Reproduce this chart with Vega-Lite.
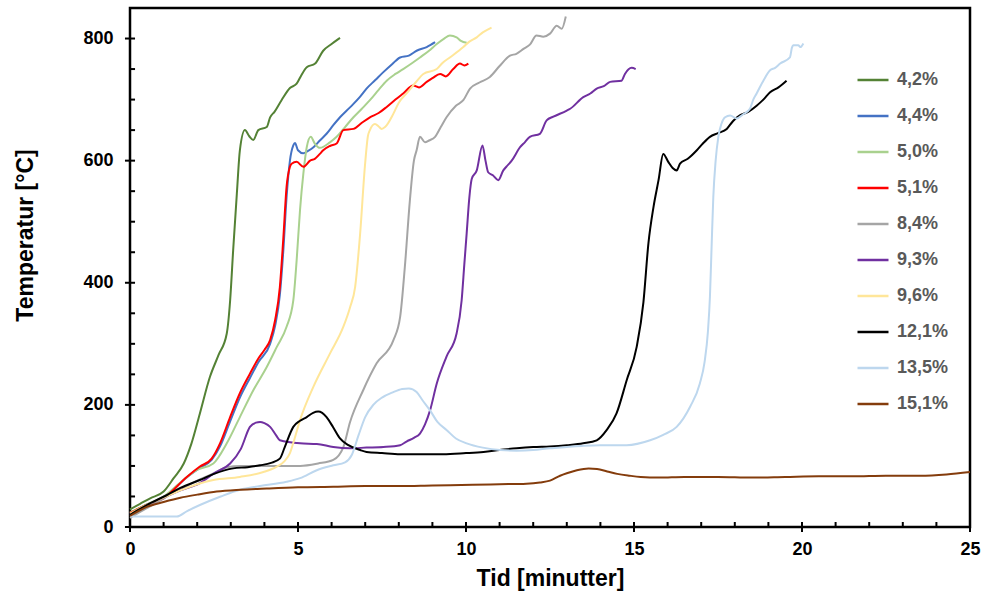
{
"$schema": "https://vega.github.io/schema/vega-lite/v6.json",
"width": 840, "height": 519,
"autosize": "none",
"padding": {"left": 130, "top": 8, "right": 11, "bottom": 67},
"background": "white",
"config": {"view": {"stroke": "black", "strokeWidth": 2.5}, "font": "Liberation Sans"},
"datasets": {"d": [
{"s":"4,2%","t":0,"T":29},{"s":"4,2%","t":0.3,"T":38},{"s":"4,2%","t":0.6,"T":47},{"s":"4,2%","t":1.0,"T":58},{"s":"4,2%","t":1.3,"T":80},{"s":"4,2%","t":1.6,"T":104},{"s":"4,2%","t":1.83,"T":137},{"s":"4,2%","t":2.08,"T":186},{"s":"4,2%","t":2.38,"T":246},{"s":"4,2%","t":2.63,"T":281},{"s":"4,2%","t":2.88,"T":317},{"s":"4,2%","t":2.98,"T":371},{"s":"4,2%","t":3.07,"T":453},{"s":"4,2%","t":3.18,"T":546},{"s":"4,2%","t":3.27,"T":617},{"s":"4,2%","t":3.42,"T":650},{"s":"4,2%","t":3.55,"T":640},{"s":"4,2%","t":3.67,"T":634},{"s":"4,2%","t":3.82,"T":650},{"s":"4,2%","t":4.07,"T":655},{"s":"4,2%","t":4.17,"T":671},{"s":"4,2%","t":4.3,"T":680},{"s":"4,2%","t":4.51,"T":699},{"s":"4,2%","t":4.76,"T":719},{"s":"4,2%","t":4.96,"T":726},{"s":"4,2%","t":5.1,"T":740},{"s":"4,2%","t":5.26,"T":753},{"s":"4,2%","t":5.51,"T":759},{"s":"4,2%","t":5.75,"T":780},{"s":"4,2%","t":6.0,"T":791},{"s":"4,2%","t":6.25,"T":801},
{"s":"4,4%","t":0,"T":22},{"s":"4,4%","t":0.5,"T":37},{"s":"4,4%","t":1.0,"T":47},{"s":"4,4%","t":1.5,"T":72},{"s":"4,4%","t":1.75,"T":84},{"s":"4,4%","t":2.08,"T":97},{"s":"4,4%","t":2.43,"T":110},{"s":"4,4%","t":2.68,"T":132},{"s":"4,4%","t":2.98,"T":173},{"s":"4,4%","t":3.27,"T":212},{"s":"4,4%","t":3.57,"T":244},{"s":"4,4%","t":3.82,"T":270},{"s":"4,4%","t":4.17,"T":300},{"s":"4,4%","t":4.32,"T":330},{"s":"4,4%","t":4.46,"T":380},{"s":"4,4%","t":4.56,"T":450},{"s":"4,4%","t":4.66,"T":540},{"s":"4,4%","t":4.76,"T":600},{"s":"4,4%","t":4.86,"T":625},{"s":"4,4%","t":4.91,"T":629},{"s":"4,4%","t":5.0,"T":617},{"s":"4,4%","t":5.16,"T":612},{"s":"4,4%","t":5.3,"T":616},{"s":"4,4%","t":5.46,"T":622},{"s":"4,4%","t":5.65,"T":633},{"s":"4,4%","t":5.85,"T":644},{"s":"4,4%","t":6.05,"T":658},{"s":"4,4%","t":6.25,"T":671},{"s":"4,4%","t":6.45,"T":682},{"s":"4,4%","t":6.65,"T":693},{"s":"4,4%","t":6.85,"T":705},{"s":"4,4%","t":7.04,"T":718},{"s":"4,4%","t":7.3,"T":732},{"s":"4,4%","t":7.54,"T":745},{"s":"4,4%","t":7.8,"T":758},{"s":"4,4%","t":8.04,"T":769},{"s":"4,4%","t":8.3,"T":772},{"s":"4,4%","t":8.53,"T":780},{"s":"4,4%","t":8.83,"T":786},{"s":"4,4%","t":9.08,"T":794},
{"s":"5,0%","t":0,"T":24},{"s":"5,0%","t":0.5,"T":37},{"s":"5,0%","t":1.0,"T":50},{"s":"5,0%","t":1.5,"T":73},{"s":"5,0%","t":1.98,"T":93},{"s":"5,0%","t":2.48,"T":104},{"s":"5,0%","t":2.88,"T":137},{"s":"5,0%","t":3.27,"T":180},{"s":"5,0%","t":3.67,"T":224},{"s":"5,0%","t":4.07,"T":262},{"s":"5,0%","t":4.37,"T":295},{"s":"5,0%","t":4.66,"T":328},{"s":"5,0%","t":4.86,"T":371},{"s":"5,0%","t":4.96,"T":437},{"s":"5,0%","t":5.06,"T":519},{"s":"5,0%","t":5.16,"T":579},{"s":"5,0%","t":5.26,"T":622},{"s":"5,0%","t":5.38,"T":639},{"s":"5,0%","t":5.5,"T":628},{"s":"5,0%","t":5.65,"T":621},{"s":"5,0%","t":5.95,"T":630},{"s":"5,0%","t":6.15,"T":639},{"s":"5,0%","t":6.4,"T":655},{"s":"5,0%","t":6.65,"T":671},{"s":"5,0%","t":6.9,"T":685},{"s":"5,0%","t":7.14,"T":699},{"s":"5,0%","t":7.4,"T":716},{"s":"5,0%","t":7.64,"T":731},{"s":"5,0%","t":7.9,"T":742},{"s":"5,0%","t":8.13,"T":750},{"s":"5,0%","t":8.4,"T":760},{"s":"5,0%","t":8.63,"T":769},{"s":"5,0%","t":8.9,"T":780},{"s":"5,0%","t":9.13,"T":791},{"s":"5,0%","t":9.35,"T":800},{"s":"5,0%","t":9.52,"T":805},{"s":"5,0%","t":9.72,"T":802},{"s":"5,0%","t":9.85,"T":796},{"s":"5,0%","t":10.02,"T":793},
{"s":"5,1%","t":0,"T":23},{"s":"5,1%","t":0.5,"T":36},{"s":"5,1%","t":1.0,"T":47},{"s":"5,1%","t":1.69,"T":82},{"s":"5,1%","t":2.08,"T":99},{"s":"5,1%","t":2.43,"T":112},{"s":"5,1%","t":2.68,"T":137},{"s":"5,1%","t":2.98,"T":180},{"s":"5,1%","t":3.27,"T":219},{"s":"5,1%","t":3.57,"T":251},{"s":"5,1%","t":3.82,"T":276},{"s":"5,1%","t":4.0,"T":290},{"s":"5,1%","t":4.17,"T":306},{"s":"5,1%","t":4.32,"T":339},{"s":"5,1%","t":4.46,"T":393},{"s":"5,1%","t":4.56,"T":470},{"s":"5,1%","t":4.66,"T":557},{"s":"5,1%","t":4.76,"T":590},{"s":"5,1%","t":4.81,"T":595},{"s":"5,1%","t":4.96,"T":598},{"s":"5,1%","t":5.16,"T":590},{"s":"5,1%","t":5.36,"T":600},{"s":"5,1%","t":5.5,"T":603},{"s":"5,1%","t":5.65,"T":611},{"s":"5,1%","t":5.75,"T":617},{"s":"5,1%","t":5.95,"T":624},{"s":"5,1%","t":6.15,"T":628},{"s":"5,1%","t":6.35,"T":650},{"s":"5,1%","t":6.65,"T":652},{"s":"5,1%","t":6.9,"T":662},{"s":"5,1%","t":7.14,"T":671},{"s":"5,1%","t":7.4,"T":678},{"s":"5,1%","t":7.64,"T":688},{"s":"5,1%","t":7.9,"T":700},{"s":"5,1%","t":8.13,"T":710},{"s":"5,1%","t":8.43,"T":723},{"s":"5,1%","t":8.6,"T":720},{"s":"5,1%","t":8.83,"T":729},{"s":"5,1%","t":9.0,"T":735},{"s":"5,1%","t":9.23,"T":742},{"s":"5,1%","t":9.4,"T":738},{"s":"5,1%","t":9.62,"T":750},{"s":"5,1%","t":9.82,"T":759},{"s":"5,1%","t":9.95,"T":756},{"s":"5,1%","t":10.07,"T":759},
{"s":"8,4%","t":0,"T":15},{"s":"8,4%","t":0.5,"T":31},{"s":"8,4%","t":1.0,"T":47},{"s":"8,4%","t":1.5,"T":62},{"s":"8,4%","t":2.0,"T":76},{"s":"8,4%","t":2.5,"T":88},{"s":"8,4%","t":2.88,"T":98},{"s":"8,4%","t":3.3,"T":100},{"s":"8,4%","t":4.0,"T":100},{"s":"8,4%","t":4.5,"T":100},{"s":"8,4%","t":5.06,"T":100},{"s":"8,4%","t":5.6,"T":104},{"s":"8,4%","t":6.05,"T":110},{"s":"8,4%","t":6.35,"T":131},{"s":"8,4%","t":6.55,"T":172},{"s":"8,4%","t":6.94,"T":224},{"s":"8,4%","t":7.34,"T":268},{"s":"8,4%","t":7.84,"T":306},{"s":"8,4%","t":8.04,"T":344},{"s":"8,4%","t":8.18,"T":426},{"s":"8,4%","t":8.33,"T":535},{"s":"8,4%","t":8.45,"T":600},{"s":"8,4%","t":8.53,"T":617},{"s":"8,4%","t":8.63,"T":639},{"s":"8,4%","t":8.78,"T":630},{"s":"8,4%","t":8.9,"T":633},{"s":"8,4%","t":9.08,"T":639},{"s":"8,4%","t":9.25,"T":655},{"s":"8,4%","t":9.42,"T":671},{"s":"8,4%","t":9.7,"T":690},{"s":"8,4%","t":9.92,"T":699},{"s":"8,4%","t":10.12,"T":718},{"s":"8,4%","t":10.4,"T":728},{"s":"8,4%","t":10.71,"T":737},{"s":"8,4%","t":11.0,"T":755},{"s":"8,4%","t":11.31,"T":772},{"s":"8,4%","t":11.5,"T":775},{"s":"8,4%","t":11.71,"T":783},{"s":"8,4%","t":11.9,"T":790},{"s":"8,4%","t":12.1,"T":805},{"s":"8,4%","t":12.3,"T":803},{"s":"8,4%","t":12.5,"T":808},{"s":"8,4%","t":12.7,"T":821},{"s":"8,4%","t":12.85,"T":816},{"s":"8,4%","t":12.97,"T":836},
{"s":"9,3%","t":0,"T":20},{"s":"9,3%","t":0.5,"T":35},{"s":"9,3%","t":1.0,"T":48},{"s":"9,3%","t":1.5,"T":60},{"s":"9,3%","t":2.08,"T":72},{"s":"9,3%","t":2.5,"T":88},{"s":"9,3%","t":2.98,"T":104},{"s":"9,3%","t":3.3,"T":128},{"s":"9,3%","t":3.57,"T":164},{"s":"9,3%","t":3.75,"T":171},{"s":"9,3%","t":3.87,"T":172},{"s":"9,3%","t":4.0,"T":170},{"s":"9,3%","t":4.17,"T":164},{"s":"9,3%","t":4.35,"T":150},{"s":"9,3%","t":4.46,"T":142},{"s":"9,3%","t":5.06,"T":137},{"s":"9,3%","t":5.56,"T":136},{"s":"9,3%","t":6.05,"T":131},{"s":"9,3%","t":6.55,"T":129},{"s":"9,3%","t":7.04,"T":130},{"s":"9,3%","t":7.54,"T":131},{"s":"9,3%","t":8.04,"T":134},{"s":"9,3%","t":8.23,"T":140},{"s":"9,3%","t":8.45,"T":146},{"s":"9,3%","t":8.63,"T":153},{"s":"9,3%","t":8.78,"T":168},{"s":"9,3%","t":8.93,"T":191},{"s":"9,3%","t":9.13,"T":235},{"s":"9,3%","t":9.42,"T":279},{"s":"9,3%","t":9.72,"T":317},{"s":"9,3%","t":9.87,"T":371},{"s":"9,3%","t":9.95,"T":430},{"s":"9,3%","t":10.02,"T":481},{"s":"9,3%","t":10.1,"T":540},{"s":"9,3%","t":10.17,"T":570},{"s":"9,3%","t":10.32,"T":584},{"s":"9,3%","t":10.49,"T":625},{"s":"9,3%","t":10.58,"T":600},{"s":"9,3%","t":10.66,"T":581},{"s":"9,3%","t":10.8,"T":576},{"s":"9,3%","t":10.96,"T":568},{"s":"9,3%","t":11.11,"T":584},{"s":"9,3%","t":11.2,"T":590},{"s":"9,3%","t":11.36,"T":600},{"s":"9,3%","t":11.61,"T":622},{"s":"9,3%","t":11.75,"T":630},{"s":"9,3%","t":11.9,"T":639},{"s":"9,3%","t":12.2,"T":644},{"s":"9,3%","t":12.4,"T":666},{"s":"9,3%","t":12.6,"T":672},{"s":"9,3%","t":13.0,"T":682},{"s":"9,3%","t":13.1,"T":685},{"s":"9,3%","t":13.49,"T":704},{"s":"9,3%","t":13.7,"T":710},{"s":"9,3%","t":13.89,"T":718},{"s":"9,3%","t":14.1,"T":722},{"s":"9,3%","t":14.29,"T":729},{"s":"9,3%","t":14.63,"T":731},{"s":"9,3%","t":14.73,"T":742},{"s":"9,3%","t":14.93,"T":752},{"s":"9,3%","t":15.05,"T":750},
{"s":"9,6%","t":0,"T":22},{"s":"9,6%","t":0.5,"T":36},{"s":"9,6%","t":1.0,"T":48},{"s":"9,6%","t":1.5,"T":60},{"s":"9,6%","t":2.0,"T":70},{"s":"9,6%","t":2.48,"T":77},{"s":"9,6%","t":3.27,"T":82},{"s":"9,6%","t":3.97,"T":90},{"s":"9,6%","t":4.37,"T":99},{"s":"9,6%","t":4.6,"T":108},{"s":"9,6%","t":4.76,"T":121},{"s":"9,6%","t":4.9,"T":145},{"s":"9,6%","t":5.06,"T":175},{"s":"9,6%","t":5.46,"T":230},{"s":"9,6%","t":5.95,"T":284},{"s":"9,6%","t":6.35,"T":328},{"s":"9,6%","t":6.55,"T":360},{"s":"9,6%","t":6.7,"T":393},{"s":"9,6%","t":6.85,"T":481},{"s":"9,6%","t":6.99,"T":590},{"s":"9,6%","t":7.08,"T":640},{"s":"9,6%","t":7.14,"T":650},{"s":"9,6%","t":7.29,"T":660},{"s":"9,6%","t":7.4,"T":656},{"s":"9,6%","t":7.49,"T":652},{"s":"9,6%","t":7.59,"T":655},{"s":"9,6%","t":7.84,"T":677},{"s":"9,6%","t":8.0,"T":695},{"s":"9,6%","t":8.23,"T":710},{"s":"9,6%","t":8.5,"T":728},{"s":"9,6%","t":8.73,"T":742},{"s":"9,6%","t":9.13,"T":750},{"s":"9,6%","t":9.3,"T":760},{"s":"9,6%","t":9.52,"T":769},{"s":"9,6%","t":9.92,"T":786},{"s":"9,6%","t":10.1,"T":795},{"s":"9,6%","t":10.32,"T":802},{"s":"9,6%","t":10.5,"T":810},{"s":"9,6%","t":10.76,"T":818},
{"s":"12,1%","t":0,"T":20},{"s":"12,1%","t":0.5,"T":36},{"s":"12,1%","t":1.09,"T":52},{"s":"12,1%","t":1.5,"T":64},{"s":"12,1%","t":2.08,"T":77},{"s":"12,1%","t":2.5,"T":87},{"s":"12,1%","t":3.07,"T":96},{"s":"12,1%","t":3.5,"T":98},{"s":"12,1%","t":3.87,"T":101},{"s":"12,1%","t":4.2,"T":105},{"s":"12,1%","t":4.46,"T":112},{"s":"12,1%","t":4.6,"T":130},{"s":"12,1%","t":4.86,"T":164},{"s":"12,1%","t":5.06,"T":174},{"s":"12,1%","t":5.26,"T":180},{"s":"12,1%","t":5.45,"T":187},{"s":"12,1%","t":5.6,"T":189},{"s":"12,1%","t":5.72,"T":187},{"s":"12,1%","t":5.85,"T":180},{"s":"12,1%","t":6.05,"T":163},{"s":"12,1%","t":6.25,"T":145},{"s":"12,1%","t":6.5,"T":134},{"s":"12,1%","t":6.85,"T":126},{"s":"12,1%","t":7.04,"T":123},{"s":"12,1%","t":7.5,"T":121},{"s":"12,1%","t":8.04,"T":119},{"s":"12,1%","t":8.7,"T":119},{"s":"12,1%","t":9.32,"T":119},{"s":"12,1%","t":10.0,"T":121},{"s":"12,1%","t":10.52,"T":123},{"s":"12,1%","t":11.0,"T":126},{"s":"12,1%","t":11.51,"T":129},{"s":"12,1%","t":12.0,"T":131},{"s":"12,1%","t":12.5,"T":132},{"s":"12,1%","t":13.0,"T":134},{"s":"12,1%","t":13.49,"T":137},{"s":"12,1%","t":13.89,"T":142},{"s":"12,1%","t":14.19,"T":159},{"s":"12,1%","t":14.48,"T":186},{"s":"12,1%","t":14.78,"T":240},{"s":"12,1%","t":15.08,"T":295},{"s":"12,1%","t":15.28,"T":368},{"s":"12,1%","t":15.43,"T":465},{"s":"12,1%","t":15.58,"T":524},{"s":"12,1%","t":15.73,"T":568},{"s":"12,1%","t":15.87,"T":611},{"s":"12,1%","t":16.02,"T":598},{"s":"12,1%","t":16.15,"T":588},{"s":"12,1%","t":16.27,"T":584},{"s":"12,1%","t":16.37,"T":595},{"s":"12,1%","t":16.6,"T":603},{"s":"12,1%","t":16.87,"T":617},{"s":"12,1%","t":17.05,"T":628},{"s":"12,1%","t":17.26,"T":639},{"s":"12,1%","t":17.5,"T":645},{"s":"12,1%","t":17.76,"T":652},{"s":"12,1%","t":17.95,"T":665},{"s":"12,1%","t":18.15,"T":674},{"s":"12,1%","t":18.4,"T":680},{"s":"12,1%","t":18.65,"T":690},{"s":"12,1%","t":18.85,"T":700},{"s":"12,1%","t":19.05,"T":712},{"s":"12,1%","t":19.3,"T":720},{"s":"12,1%","t":19.54,"T":731},
{"s":"13,5%","t":0,"T":17},{"s":"13,5%","t":1.39,"T":17},{"s":"13,5%","t":1.7,"T":26},{"s":"13,5%","t":2.08,"T":36},{"s":"13,5%","t":2.7,"T":50},{"s":"13,5%","t":3.27,"T":61},{"s":"13,5%","t":3.87,"T":67},{"s":"13,5%","t":4.66,"T":74},{"s":"13,5%","t":5.06,"T":80},{"s":"13,5%","t":5.56,"T":93},{"s":"13,5%","t":6.05,"T":101},{"s":"13,5%","t":6.4,"T":106},{"s":"13,5%","t":6.6,"T":118},{"s":"13,5%","t":6.8,"T":150},{"s":"13,5%","t":7.0,"T":180},{"s":"13,5%","t":7.24,"T":200},{"s":"13,5%","t":7.5,"T":212},{"s":"13,5%","t":7.8,"T":220},{"s":"13,5%","t":8.1,"T":226},{"s":"13,5%","t":8.3,"T":227},{"s":"13,5%","t":8.53,"T":221},{"s":"13,5%","t":8.7,"T":208},{"s":"13,5%","t":8.93,"T":191},{"s":"13,5%","t":9.15,"T":172},{"s":"13,5%","t":9.42,"T":159},{"s":"13,5%","t":9.7,"T":145},{"s":"13,5%","t":10.02,"T":137},{"s":"13,5%","t":10.5,"T":130},{"s":"13,5%","t":11.01,"T":126},{"s":"13,5%","t":11.5,"T":125},{"s":"13,5%","t":12.0,"T":126},{"s":"13,5%","t":12.5,"T":129},{"s":"13,5%","t":13.0,"T":131},{"s":"13,5%","t":13.5,"T":133},{"s":"13,5%","t":13.99,"T":134},{"s":"13,5%","t":14.78,"T":134},{"s":"13,5%","t":15.48,"T":142},{"s":"13,5%","t":15.87,"T":151},{"s":"13,5%","t":16.27,"T":164},{"s":"13,5%","t":16.67,"T":197},{"s":"13,5%","t":16.96,"T":235},{"s":"13,5%","t":17.1,"T":270},{"s":"13,5%","t":17.2,"T":320},{"s":"13,5%","t":17.26,"T":377},{"s":"13,5%","t":17.31,"T":460},{"s":"13,5%","t":17.36,"T":540},{"s":"13,5%","t":17.43,"T":600},{"s":"13,5%","t":17.51,"T":639},{"s":"13,5%","t":17.6,"T":660},{"s":"13,5%","t":17.71,"T":671},{"s":"13,5%","t":17.86,"T":674},{"s":"13,5%","t":18.06,"T":669},{"s":"13,5%","t":18.25,"T":676},{"s":"13,5%","t":18.45,"T":685},{"s":"13,5%","t":18.55,"T":700},{"s":"13,5%","t":18.65,"T":710},{"s":"13,5%","t":18.85,"T":731},{"s":"13,5%","t":19.05,"T":748},{"s":"13,5%","t":19.2,"T":752},{"s":"13,5%","t":19.35,"T":759},{"s":"13,5%","t":19.64,"T":769},{"s":"13,5%","t":19.7,"T":785},{"s":"13,5%","t":19.74,"T":789},{"s":"13,5%","t":19.89,"T":789},{"s":"13,5%","t":19.95,"T":786},{"s":"13,5%","t":20.04,"T":792},
{"s":"15,1%","t":0,"T":18},{"s":"15,1%","t":0.5,"T":33},{"s":"15,1%","t":1.0,"T":41},{"s":"15,1%","t":1.5,"T":48},{"s":"15,1%","t":2.0,"T":53},{"s":"15,1%","t":2.58,"T":58},{"s":"15,1%","t":3.3,"T":61},{"s":"15,1%","t":4.07,"T":63},{"s":"15,1%","t":5.0,"T":65},{"s":"15,1%","t":6.05,"T":66},{"s":"15,1%","t":7.0,"T":67},{"s":"15,1%","t":8.04,"T":67},{"s":"15,1%","t":9.0,"T":68},{"s":"15,1%","t":10.2,"T":69},{"s":"15,1%","t":11.0,"T":70},{"s":"15,1%","t":11.8,"T":71},{"s":"15,1%","t":12.2,"T":73},{"s":"15,1%","t":12.5,"T":76},{"s":"15,1%","t":12.8,"T":84},{"s":"15,1%","t":13.0,"T":88},{"s":"15,1%","t":13.3,"T":93},{"s":"15,1%","t":13.65,"T":96},{"s":"15,1%","t":13.9,"T":95},{"s":"15,1%","t":14.2,"T":91},{"s":"15,1%","t":14.5,"T":87},{"s":"15,1%","t":14.87,"T":84},{"s":"15,1%","t":15.2,"T":82},{"s":"15,1%","t":15.75,"T":81},{"s":"15,1%","t":16.5,"T":82},{"s":"15,1%","t":17.5,"T":82},{"s":"15,1%","t":18.5,"T":81},{"s":"15,1%","t":19.5,"T":82},{"s":"15,1%","t":20.5,"T":83},{"s":"15,1%","t":21.5,"T":83},{"s":"15,1%","t":22.5,"T":84},{"s":"15,1%","t":23.5,"T":84},{"s":"15,1%","t":24.3,"T":86},{"s":"15,1%","t":25,"T":90}
],
"ymaj": [{"v":0},{"v":200},{"v":400},{"v":600},{"v":800}],
"ymin": [{"v":50},{"v":100},{"v":150},{"v":250},{"v":300},{"v":350},{"v":450},{"v":500},{"v":550},{"v":650},{"v":700},{"v":750}],
"xmaj": [{"v":0},{"v":5},{"v":10},{"v":15},{"v":20},{"v":25}],
"xmin": [{"v":1},{"v":2},{"v":3},{"v":4},{"v":6},{"v":7},{"v":8},{"v":9},{"v":11},{"v":12},{"v":13},{"v":14},{"v":16},{"v":17},{"v":18},{"v":19},{"v":21},{"v":22},{"v":23},{"v":24}]
},
"layer": [
{
"data": {"name": "d"},
"mark": {"type": "line", "strokeWidth": 2, "interpolate": "monotone"},
"encoding": {
 "x": {"field": "t", "type": "quantitative",
   "scale": {"domain": [0, 25], "nice": false, "zero": false},
   "axis": {"title": "Tid [minutter]", "values": [0,5,10,15,20,25],
     "domain": false, "grid": false, "ticks": false,
     "labelFont": "Liberation Sans", "labelFontSize": 18, "labelFontWeight": "bold", "labelColor": "black",
     "labelPadding": 13, "labelFlush": false, "labelOverlap": false,
     "titleFont": "Liberation Sans", "titleFontSize": 23, "titleFontWeight": "bold", "titleColor": "black",
     "titleY": 51, "titleBaseline": "middle"}},
 "y": {"field": "T", "type": "quantitative",
   "scale": {"domain": [0, 850], "nice": false},
   "axis": {"title": "Temperatur [°C]", "values": [0,200,400,600,800],
     "domain": false, "grid": false, "ticks": false,
     "labelFont": "Liberation Sans", "labelFontSize": 18, "labelFontWeight": "bold", "labelColor": "black",
     "labelPadding": 17, "labelFlush": false, "labelOverlap": false,
     "titleFont": "Liberation Sans", "titleFontSize": 23, "titleFontWeight": "bold", "titleColor": "black",
     "titleX": -105, "titleY": 227, "titleBaseline": "middle"}},
 "color": {"field": "s", "type": "nominal",
   "scale": {"domain": ["4,2%","4,4%","5,0%","5,1%","8,4%","9,3%","9,6%","12,1%","13,5%","15,1%"],
     "range": ["#548235","#4472C4","#A9D18E","#FF0000","#A5A5A5","#7030A0","#FFE699","#000000","#BDD7EE","#843C0C"]},
   "legend": {"orient": "none", "legendX": 726, "legendY": 55, "title": null,
     "symbolType": "stroke", "symbolSize": 961, "symbolStrokeWidth": 2.5,
     "labelFont": "Liberation Sans", "labelFontSize": 18, "labelFontWeight": "bold", "labelColor": "#595959",
     "rowPadding": 10, "labelOffset": 7}}
}
},
{
"data": {"name": "ymaj"},
"mark": {"type": "rule", "color": "black", "strokeWidth": 2},
"encoding": {
 "y": {"field": "v", "type": "quantitative", "title": "Temperatur [°C]"},
 "x": {"datum": -0.15, "type": "quantitative"},
 "x2": {"datum": 0.15}
}
},
{
"data": {"name": "ymin"},
"mark": {"type": "rule", "color": "black", "strokeWidth": 2},
"encoding": {
 "y": {"field": "v", "type": "quantitative", "title": "Temperatur [°C]"},
 "x": {"datum": 0, "type": "quantitative"},
 "x2": {"datum": 0.15}
}
},
{
"data": {"name": "xmaj"},
"mark": {"type": "rule", "color": "black", "strokeWidth": 2},
"encoding": {
 "x": {"field": "v", "type": "quantitative", "title": "Tid [minutter]"},
 "y": {"datum": -8.2, "type": "quantitative"},
 "y2": {"datum": 8.2}
}
},
{
"data": {"name": "xmin"},
"mark": {"type": "rule", "color": "black", "strokeWidth": 2},
"encoding": {
 "x": {"field": "v", "type": "quantitative", "title": "Tid [minutter]"},
 "y": {"datum": 0, "type": "quantitative"},
 "y2": {"datum": 8.2}
}
}
]
}
